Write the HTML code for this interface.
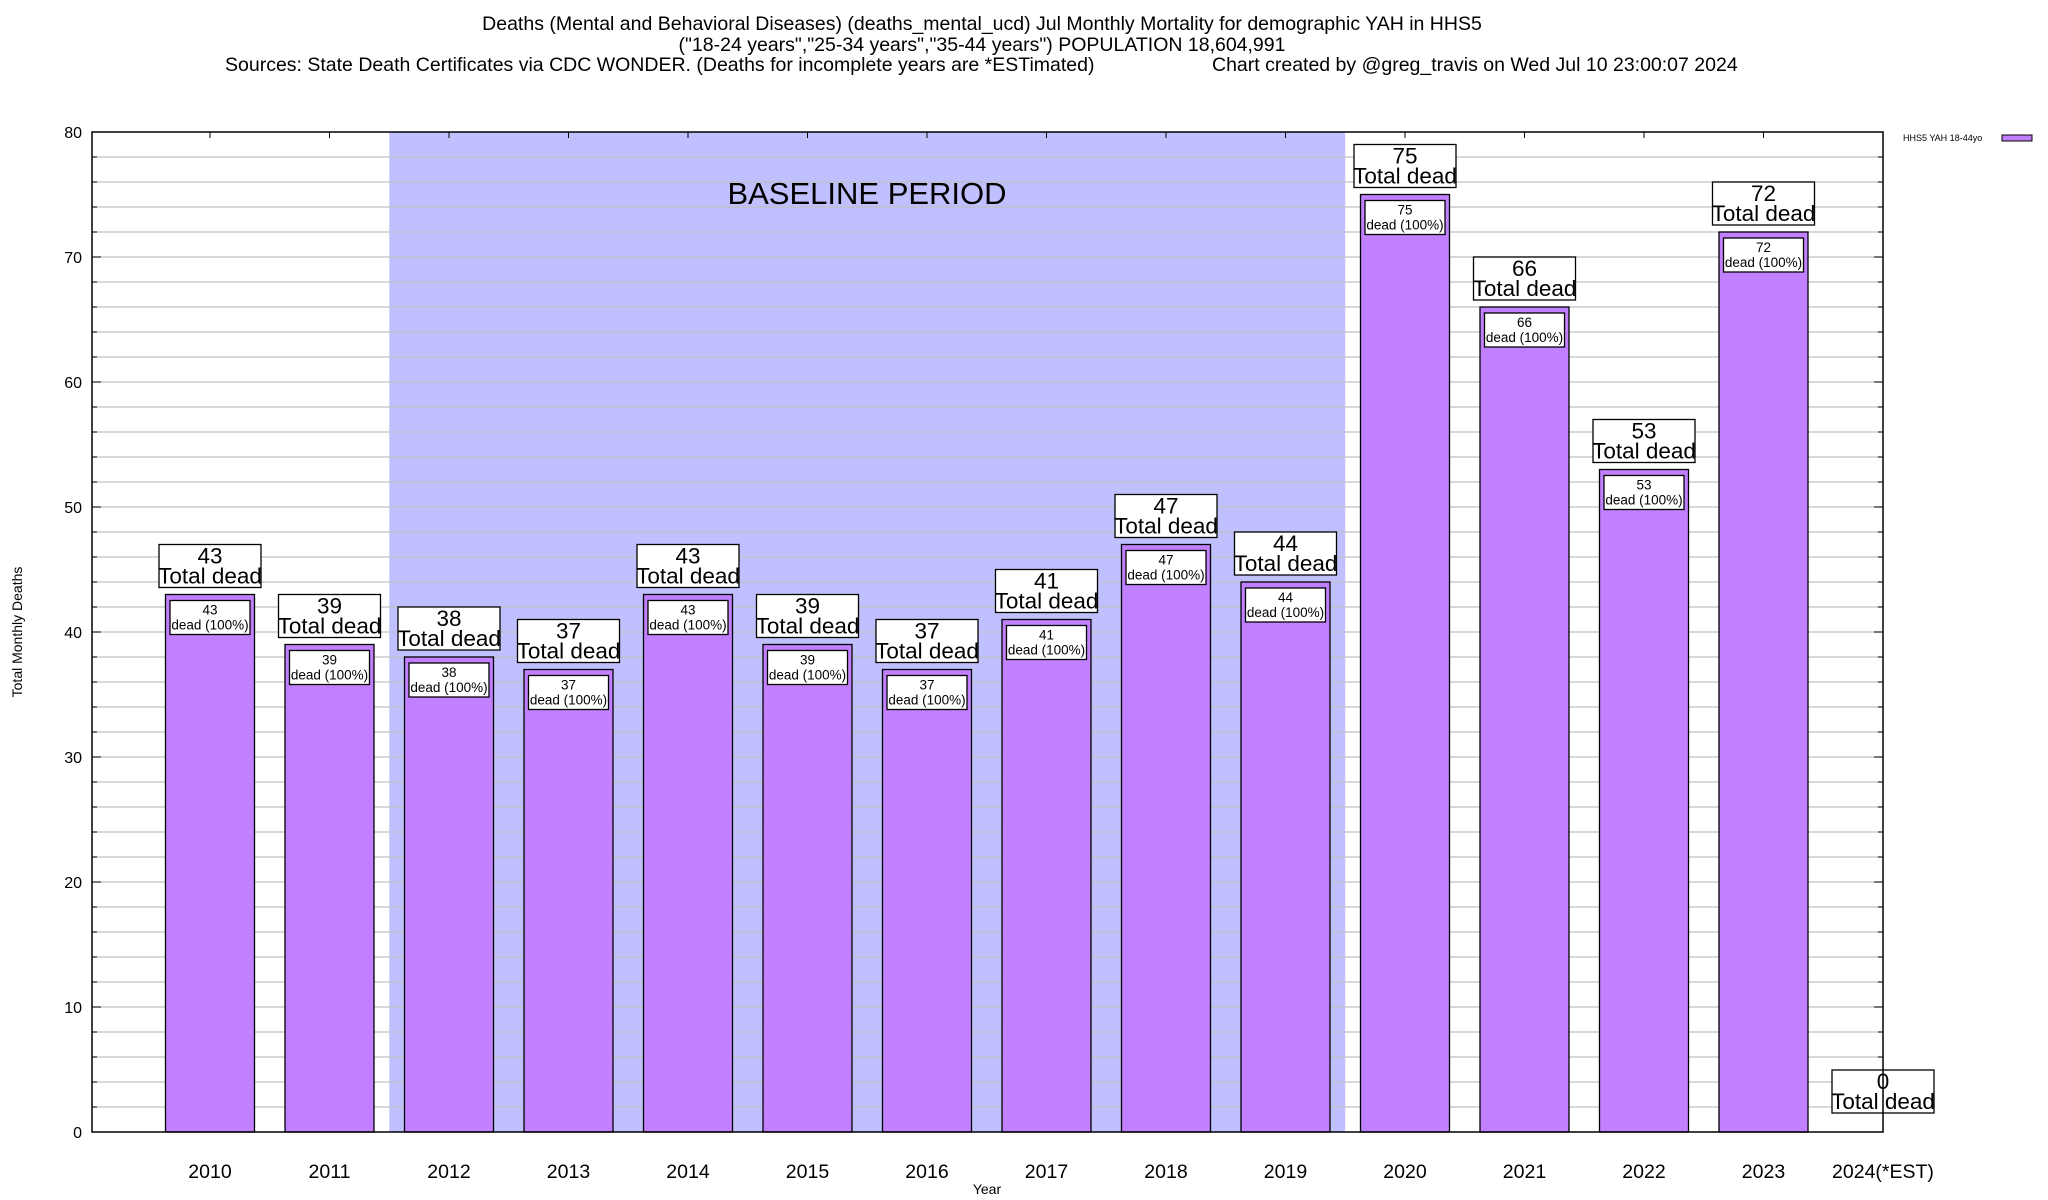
<!DOCTYPE html>
<html><head><meta charset="utf-8"><style>
body{margin:0;background:#fff}
svg{display:block;font-family:"Liberation Sans",sans-serif}
</style></head><body>
<svg id="c" width="2048" height="1200" viewBox="0 0 2048 1200" xmlns="http://www.w3.org/2000/svg">
<text x="982" y="30" font-size="19.5" text-anchor="middle">Deaths (Mental and Behavioral Diseases) (deaths_mental_ucd) Jul Monthly Mortality for demographic YAH in HHS5</text>
<text x="982" y="51" font-size="19.5" text-anchor="middle">("18-24 years","25-34 years","35-44 years") POPULATION 18,604,991</text>
<text x="225" y="71" font-size="19.5">Sources: State Death Certificates via CDC WONDER. (Deaths for incomplete years are *ESTimated)</text>
<text x="1212" y="71" font-size="19.5">Chart created by @greg_travis on Wed Jul 10 23:00:07 2024</text>
<g id="plot"></g>
<text x="1903" y="141" font-size="9">HHS5 YAH 18-44yo</text>
<rect x="2002" y="135" width="30" height="6" fill="#c080ff" stroke="#000"/>
<text transform="translate(22,632) rotate(-90)" font-size="14" text-anchor="middle">Total Monthly Deaths</text>
<text x="987" y="1194" font-size="14" text-anchor="middle">Year</text>
</svg>
<script>
const categories=["2010","2011","2012","2013","2014","2015","2016","2017","2018","2019","2020","2021","2022","2023","2024(*EST)"];
const values=[43,39,38,37,43,39,37,41,47,44,75,66,53,72,0];
const yTicks=[0,10,20,30,40,50,60,70,80];
const baselineStart=2, baselineEnd=9;
const L=92,R=1883,T=132,B=1132,YMAX=80;
const NS="http://www.w3.org/2000/svg";
const g=document.getElementById('plot');
const y=v=>B-(v/YMAX)*(B-T);
const step=(R-210)/(categories.length-1);
const x=i=>210+i*step;
function mk(t,a,txt){const e=document.createElementNS(NS,t);for(const k in a)e.setAttribute(k,a[k]);if(txt!==undefined)e.textContent=txt;g.appendChild(e);return e;}
let e;
e=mk('rect',{x:x(baselineStart)-step/2,y:T,width:(baselineEnd-baselineStart+1)*step,height:B-T,fill:'#c0c0ff'});


for(let v=2;v<YMAX;v+=2){
 e=mk('line',{x1:L,x2:R,y1:y(v),y2:y(v),stroke:'#c0c0c0','stroke-width':1.3});
 
 
 const len=(v%10===0)?9:5;
 mk('line',{x1:L,x2:L+len,y1:y(v),y2:y(v),stroke:'#000'});
 mk('line',{x1:R,x2:R-len,y1:y(v),y2:y(v),stroke:'#000'});
}
yTicks.forEach(v=>{
 e=mk('text',{x:82,y:y(v)+6,'font-size':16,'text-anchor':'end'},String(v));
 
 
});
e=mk('text',{x:867,y:204,'font-size':31,'text-anchor':'middle'},'BASELINE PERIOD');


const bw=89;
categories.forEach((c,i)=>{
 const cx=x(i),v=values[i];
 mk('line',{x1:cx,x2:cx,y1:T,y2:T+6,stroke:'#000'});
 mk('line',{x1:cx,x2:cx,y1:B,y2:B-6,stroke:'#000'});
 e=mk('text',{x:cx,y:1178,'font-size':19.5,'text-anchor':'middle'},c);
 
 
 if(v>0){
  e=mk('rect',{x:cx-bw/2,y:y(v),width:bw,height:B-y(v),fill:'#c080ff',stroke:'#000','stroke-width':1.3});
  
  
  e=mk('rect',{x:cx-40,y:y(v)+6,width:80,height:34,fill:'#fff',stroke:'#000','stroke-width':1.3});
  
  
  e=mk('text',{x:cx,y:y(v)+20,'font-size':13.5,'text-anchor':'middle'},String(v));
  
  
  e=mk('text',{x:cx,y:y(v)+35,'font-size':13.5,'text-anchor':'middle'},'dead (100%)');
  
  
 }
 const bb=v>0?y(v)-7:y(v)-19;
 e=mk('rect',{x:cx-51,y:bb-43,width:102,height:43,fill:'#fff',stroke:'#000','stroke-width':1.3});
 
 
 e=mk('text',{x:cx,y:bb-24,'font-size':22.5,'text-anchor':'middle'},String(v));
 
 
 e=mk('text',{x:cx,y:bb-4,'font-size':22.5,'text-anchor':'middle'},'Total dead');
 
 
});
e=mk('rect',{x:L,y:T,width:R-L,height:B-T,fill:'none',stroke:'#000','stroke-width':1.5});


</script>
</body></html>
